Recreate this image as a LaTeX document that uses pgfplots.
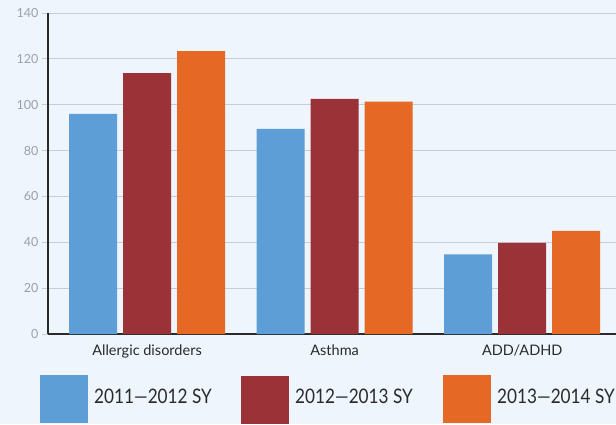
\documentclass[border=0pt]{standalone}
\usepackage{fontspec}
\setmainfont{Lato}
\usepackage{pgfplots}
\pgfplotsset{compat=1.18}
\definecolor{bgc}{HTML}{EEF5FC}
\definecolor{gridc}{HTML}{C5CDD6}
\definecolor{tickc}{HTML}{9AA0A6}
\definecolor{cblue}{HTML}{5E9ED6}
\definecolor{cred}{HTML}{9B3237}
\definecolor{corange}{HTML}{E66825}
\definecolor{txt}{HTML}{2A2A2A}
\begin{document}
\begin{tikzpicture}[x=1pt,y=1pt]
\fill[bgc] (0,0) rectangle (616,-424);
\begin{axis}[
  at={(48pt,-334pt)}, anchor=south west,
  scale only axis, width=568pt, height=321pt,
  xmin=-0.528, xmax=2.5, ymin=0, ymax=140,
  ybar=6pt, bar width=48pt,
  xtick={0,1,2},
  xticklabels={Allergic disorders,Asthma,ADD/ADHD},
  ytick={0,20,...,140},
  ymajorgrids, grid style={color=gridc, line width=1pt},
  axis x line*=bottom, axis y line*=left,
  axis line style={txt, line width=1.2pt},
  major x tick style={draw=none},
  major y tick style={color=gridc, line width=1pt},
  tick align=outside, major tick length=6pt,
  yticklabel style={text=tickc, font=\fontsize{12.5}{13}\selectfont},
  xticklabel style={text=txt, font=\fontsize{14.5}{15}\selectfont, yshift=-1pt},
  /pgf/number format/assume math mode=true,
  xtick pos=bottom, ytick pos=left,
]
\addplot[fill=cblue, draw=none] coordinates {(0,96) (1,89.5) (2,34.7)};
\addplot[fill=cred, draw=none] coordinates {(0,113.8) (1,102.5) (2,39.8)};
\addplot[fill=corange, draw=none] coordinates {(0,123.4) (1,101.3) (2,45)};
\end{axis}
\fill[cblue] (40,-375) rectangle (88,-423);
\fill[cred] (241,-376) rectangle (289,-424);
\fill[corange] (443,-375) rectangle (491,-423);
\node[anchor=west, inner sep=0pt, text=txt, font=\fontsize{20}{22}\selectfont] at (94,-396) {\scalebox{0.86}[1]{2011—2012 SY}};
\node[anchor=west, inner sep=0pt, text=txt, font=\fontsize{20}{22}\selectfont] at (295,-396) {\scalebox{0.86}[1]{2012—2013 SY}};
\node[anchor=west, inner sep=0pt, text=txt, font=\fontsize{20}{22}\selectfont] at (497,-396) {\scalebox{0.86}[1]{2013—2014 SY}};
\pgfresetboundingbox
\useasboundingbox (0,0) rectangle (616,-424);
\end{tikzpicture}
\end{document}
